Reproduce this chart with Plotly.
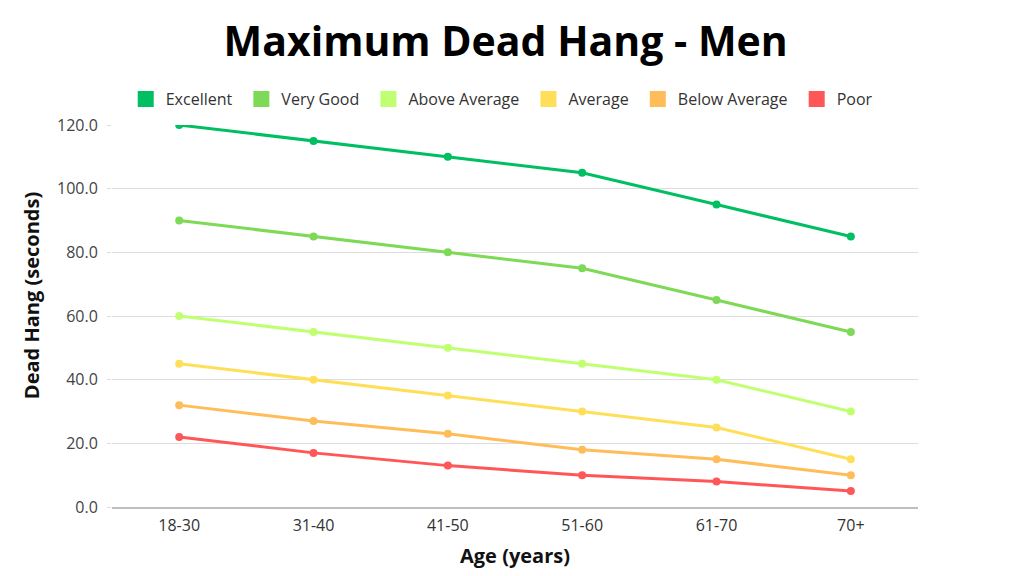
import plotly.graph_objects as go

age_groups = ["18-30", "31-40", "41-50", "51-60", "61-70", "70+"]
excellent = [120, 115, 110, 105, 95, 85]
very_good = [90, 85, 80, 75, 65, 55]
above_average = [60, 55, 50, 45, 40, 30]
average = [45, 40, 35, 30, 25, 15]
below_average = [32, 27, 23, 18, 15, 10]
poor = [22, 17, 13, 10, 8, 5]

series = [
    ("Excellent", excellent, "#00BF63"),
    ("Very Good", very_good, "#7ED957"),
    ("Above Average", above_average, "#C1FF72"),
    ("Average", average, "#FFDE59"),
    ("Below Average", below_average, "#FFBD59"),
    ("Poor", poor, "#FF5757"),
]

FONT = "Open Sans"
PAD = "\u00a0"

fig = go.Figure()

# lines with dot markers
for name, vals, color in series:
    fig.add_trace(go.Scatter(
        x=age_groups, y=vals, mode="lines+markers", name=name,
        line=dict(color=color, width=3),
        marker=dict(color=color, size=8),
        showlegend=False,
    ))

# square legend swatches
for name, vals, color in series:
    fig.add_trace(go.Scatter(
        x=[None], y=[None], mode="markers", name=name + PAD,
        marker=dict(color=color, size=19, symbol="square"),
        showlegend=True,
    ))

# y title as annotation so it can sit a bit above the plot centre
fig.add_annotation(
    text="<b>Dead Hang (seconds)</b>", textangle=-90,
    xref="paper", yref="paper", x=0, y=0.552, xanchor="center", yanchor="middle",
    xshift=-81, showarrow=False,
    font=dict(family=FONT, size=20, color="#111111"),
)

# page body has an 8px margin, so offsets below are compensated
fig.update_layout(
    width=1024, height=576,
    paper_bgcolor="white", plot_bgcolor="white",
    margin=dict(l=104, r=114, t=117, b=77),
    font=dict(family=FONT, color="#333333", size=14),
    title=dict(
        text="<b>Maximum Dead Hang - Men</b>",
        x=0.486, xanchor="center", y=0.941, yanchor="middle",
        font=dict(family=FONT, size=41, color="#000000"),
    ),
    legend=dict(
        orientation="h", x=0.486, xanchor="center", y=1.068, yanchor="middle",
        font=dict(size=16, color="#333333"),
        itemwidth=30, tracegroupgap=0,
    ),
    xaxis=dict(
        range=[-0.5, 5.5],
        showgrid=False, showline=True, linecolor="#BFBFBF", linewidth=1.5,
        ticks="", ticklabelstandoff=3, tickfont=dict(size=16, color="#333333"),
        automargin=False,
        title=dict(text="<b>Age (years)</b>", font=dict(size=20, color="#111111"), standoff=14),
    ),
    yaxis=dict(
        range=[0, 120], tickvals=[0, 20, 40, 60, 80, 100, 120], tickformat=".1f",
        showgrid=True, gridcolor="#DDDDDD", gridwidth=1, zeroline=False,
        ticks="outside", ticklen=4, tickcolor="#DDDDDD", ticklabelstandoff=6,
        tickfont=dict(size=16, color="#444444"),
        automargin=False,
    ),
)

fig.write_html("out.html")
